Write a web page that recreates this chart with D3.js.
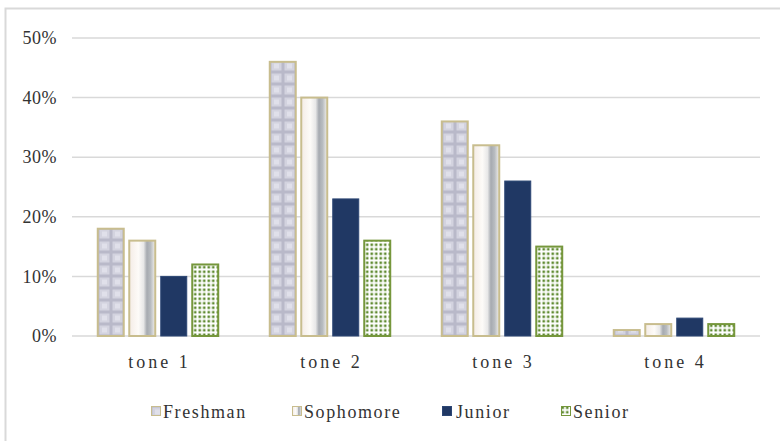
<!DOCTYPE html>
<html><head><meta charset="utf-8">
<script src="https://cdn.jsdelivr.net/npm/d3@7"></script>
<style>body{margin:0;background:#fff}svg{display:block}text{font-family:"Liberation Serif","DejaVu Serif",serif;fill:#333}</style>
</head><body>
<svg id="c" width="780" height="441"></svg>
<script>
const categories = ["tone 1","tone 2","tone 3","tone 4"];
const seriesNames = ["Freshman","Sophomore","Junior","Senior"];
const freshman = [18,46,36,1];
const sophomore = [16,40,32,2];
const junior = [10,23,26,3];
const senior = [12,16,15,2];
const yTicks = [0,10,20,30,40,50];
const values = [freshman, sophomore, junior, senior];

const svg = d3.select("#c");
const defs = svg.append("defs");

// Freshman grid pattern
const pf = defs.append("pattern").attr("id","pf").attr("patternUnits","userSpaceOnUse")
  .attr("width",13).attr("height",12);
pf.append("rect").attr("width",13).attr("height",12).attr("fill","#b9b9c9");
pf.append("rect").attr("x",1.5).attr("y",1.5).attr("width",10).attr("height",9).attr("fill","#d3d3df");
pf.append("rect").attr("x",4).attr("y",3.5).attr("width",5).attr("height",5).attr("fill","#e0e0ea");
// Sophomore gradient
const gs = defs.append("linearGradient").attr("id","ps").attr("x1",0).attr("x2",1).attr("y1",0).attr("y2",0);
[[0,"#f4ece6"],[0.35,"#fdfbf8"],[0.55,"#e8e8e8"],[0.68,"#a6aab0"],[0.82,"#b8bcc0"],[1,"#f2f0ec"]]
  .forEach(([o,c])=>gs.append("stop").attr("offset",o).attr("stop-color",c));
// Senior dots
const pd = defs.append("pattern").attr("id","pd").attr("patternUnits","userSpaceOnUse")
  .attr("width",4.5).attr("height",4.5);
pd.append("rect").attr("width",4.5).attr("height",4.5).attr("fill","#ffffff");
pd.append("rect").attr("x",0.5).attr("y",0.5).attr("width",2.5).attr("height",2.5).attr("fill","#5f8a30");

const fills = ["url(#pf)","url(#ps)","#203864","url(#pd)"];
const strokes = ["#c8bd8e","#c8bd8e","#2c4674","#76973c"];
const strokeW = [2,2,1,2];

// outer border
svg.append("rect").attr("x",5.5).attr("y",8.5).attr("width",800).attr("height",460)
  .attr("fill","none").attr("stroke","#d9d9d9").attr("stroke-width",2);

const x0 = d3.scaleBand().domain(categories).range([72,760]).padding(0);
const x1 = d3.scaleBand().domain(seriesNames).range([0,x0.bandwidth()]).paddingInner(0.175).paddingOuter(0.818);
const y = d3.scaleLinear().domain([0,50]).range([336,38]);

// gridlines
svg.append("g").selectAll("line").data(yTicks).join("line")
  .attr("x1",72).attr("x2",760).attr("y1",d=>y(d)).attr("y2",d=>y(d))
  .attr("stroke","#d9d9d9").attr("stroke-width",1.5);

// y labels
svg.append("g").selectAll("text").data(yTicks).join("text")
  .attr("x",57).attr("y",d=>y(d)+2).attr("text-anchor","end").attr("dominant-baseline","middle")
  .attr("font-size","18px").attr("letter-spacing","0.5px").text(d=>d+"%");

// bars
const groups = svg.append("g").selectAll("g").data(categories).join("g")
  .attr("transform",d=>`translate(${x0(d)},0)`);
groups.selectAll("rect").data((c,ci)=>seriesNames.map((s,si)=>({s,si,v:values[si][ci]}))).join("rect")
  .attr("x",d=>x1(d.s)).attr("width",x1.bandwidth())
  .attr("y",d=>y(d.v)).attr("height",d=>y(0)-y(d.v))
  .attr("fill",d=>fills[d.si]).attr("stroke",d=>strokes[d.si]).attr("stroke-width",d=>strokeW[d.si]);

// x labels
svg.append("g").selectAll("text").data(categories).join("text")
  .attr("x",d=>x0(d)+x0.bandwidth()/2+1.5).attr("y",368).attr("text-anchor","middle")
  .attr("font-size","18px").attr("letter-spacing","3px").text(d=>d);

// legend
const legX = [151,292,442,561];
const leg = svg.append("g").selectAll("g").data(seriesNames).join("g")
  .attr("transform",(d,i)=>`translate(${legX[i]},406)`);
leg.append("rect").attr("x",0.5).attr("y",0.5).attr("width",9).attr("height",9)
  .attr("fill",(d,i)=>fills[i]).attr("stroke",(d,i)=>strokes[i]).attr("stroke-width",1);
leg.append("text").attr("x",(d,i)=>i===2?14:12).attr("y",11.5).attr("font-size","18px")
  .attr("letter-spacing","1.6px").text(d=>d);
</script>
</body></html>
